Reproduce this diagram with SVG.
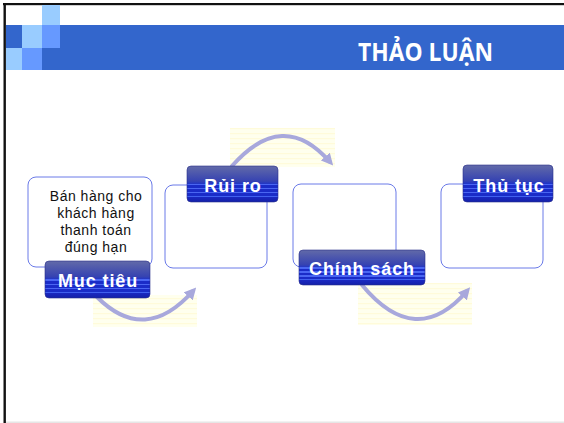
<svg xmlns="http://www.w3.org/2000/svg" width="564" height="423" viewBox="0 0 564 423">
  <defs>
    <style>
      .box { fill: #FFFFFF; stroke: #6A7AE8; stroke-width: 1; }
      .lbl { fill: url(#lblGrad); stroke: #2A2F8A; stroke-width: 0.6; }
      .lbltxt { font-family: "Liberation Sans", Arial, sans-serif; font-weight: bold; font-size: 18px; fill: #FFFFFF; letter-spacing: 0.9px; text-anchor: middle; }
      .body { font-family: "Liberation Sans", Arial, sans-serif; font-size: 14px; fill: #111111; letter-spacing: 0.5px; text-anchor: middle; }
      .arc { fill: none; stroke: #A8A8DC; stroke-width: 4; stroke-linecap: round; marker-end: url(#head); }
      .haze { fill: url(#hazeStripes); }
    </style>
    <linearGradient id="lblGrad" x1="0" y1="0" x2="0" y2="1">
      <stop offset="0" stop-color="#626AA8"/>
      <stop offset="0.42" stop-color="#3643B2"/>
      <stop offset="0.5" stop-color="#2035C6"/>
      <stop offset="0.5" stop-color="#4A66F2"/>
      <stop offset="0.54" stop-color="#4A66F2"/>
      <stop offset="0.54" stop-color="#1A2CC8"/>
      <stop offset="0.61" stop-color="#1A2CC8"/>
      <stop offset="0.61" stop-color="#4A66F2"/>
      <stop offset="0.65" stop-color="#4A66F2"/>
      <stop offset="0.65" stop-color="#1A2CC8"/>
      <stop offset="0.72" stop-color="#1A2CC8"/>
      <stop offset="0.72" stop-color="#4A66F2"/>
      <stop offset="0.76" stop-color="#4A66F2"/>
      <stop offset="0.76" stop-color="#1A2CC8"/>
      <stop offset="0.83" stop-color="#1A2CC8"/>
      <stop offset="0.83" stop-color="#4060EE"/>
      <stop offset="0.87" stop-color="#4060EE"/>
      <stop offset="0.87" stop-color="#1A28C0"/>
      <stop offset="1" stop-color="#1420A8"/>
    </linearGradient>
    <pattern id="hazeStripes" width="8" height="5" patternUnits="userSpaceOnUse">
      <rect width="8" height="5" fill="#FFFFEE"/>
      <rect y="3" width="8" height="1.2" fill="#FFFBDA"/>
    </pattern>
    <marker id="head" viewBox="0 0 10 10" refX="6" refY="5" markerWidth="3" markerHeight="3" orient="auto" markerUnits="strokeWidth">
      <path d="M0,0 L10,5 L0,10 z" fill="#A8A8DC"/>
    </marker>
  </defs>

  <!-- page background and frame -->
  <rect width="564" height="423" fill="#FFFFFF"/>
  <rect x="3" y="3" width="561" height="2.2" fill="#111111"/>
  <rect x="3.5" y="3" width="2.4" height="420" fill="#111111"/>
  <rect x="6" y="421.5" width="558" height="1.5" fill="#E6E6E6"/>

  <!-- header band with corner squares -->
  <g id="header">
    <rect x="6" y="25" width="558" height="45" fill="#3366CC"/>
    <rect x="42" y="5" width="18" height="20" fill="#99CCFF"/>
    <rect x="22" y="25" width="20" height="23" fill="#99CCFF"/>
    <rect x="42" y="25" width="18" height="23" fill="#6699FF"/>
    <rect x="6" y="48" width="16" height="22" fill="#99CCFF"/>
    <rect x="22" y="48" width="20" height="22" fill="#6699FF"/>
    <text x="358" y="61" font-family="'Open Sans', 'Liberation Sans', sans-serif" font-weight="bold" font-size="25" fill="#FFFFFF" textLength="135" lengthAdjust="spacingAndGlyphs">THẢO LUẬN</text>
  </g>

  <!-- curved connectors -->
  <g id="connectors">
    <rect class="haze" x="93" y="295" width="104" height="32"/>
    <rect class="haze" x="230" y="128" width="105" height="39"/>
    <rect class="haze" x="358" y="283" width="114" height="42"/>
    <path class="arc" d="M 97 297 Q 145 345 193 291"/>
    <path class="arc" d="M 232 166 Q 283 108 330 162"/>
    <path class="arc" d="M 362 285 Q 416 350 467 291"/>
  </g>

  <!-- step 1 -->
  <g id="muc-tieu">
    <rect class="box" x="28" y="177" width="124" height="90" rx="8"/>
    <text class="body" x="96" y="201">Bán hàng cho</text>
    <text class="body" x="96" y="218">khách hàng</text>
    <text class="body" x="96" y="235">thanh toán</text>
    <text class="body" x="96" y="252">đúng hạn</text>
    <rect class="lbl" x="45" y="261" width="105" height="37" rx="4"/>
    <text class="lbltxt" x="98" y="287">Mục tiêu</text>
  </g>

  <!-- step 2 -->
  <g id="rui-ro">
    <rect class="box" x="165" y="185" width="102" height="83" rx="8"/>
    <rect class="lbl" x="187" y="166" width="91" height="36" rx="4"/>
    <text class="lbltxt" x="233" y="192">Rủi ro</text>
  </g>

  <!-- step 3 -->
  <g id="chinh-sach">
    <rect class="box" x="293" y="184" width="103" height="83" rx="8"/>
    <rect class="lbl" x="299" y="250" width="126" height="35" rx="4"/>
    <text class="lbltxt" x="362" y="275">Chính sách</text>
  </g>

  <!-- step 4 -->
  <g id="thu-tuc">
    <rect class="box" x="441" y="184" width="102" height="84" rx="8"/>
    <rect class="lbl" x="463" y="165" width="90" height="37" rx="4"/>
    <text class="lbltxt" x="509" y="192">Thủ tục</text>
  </g>
</svg>
